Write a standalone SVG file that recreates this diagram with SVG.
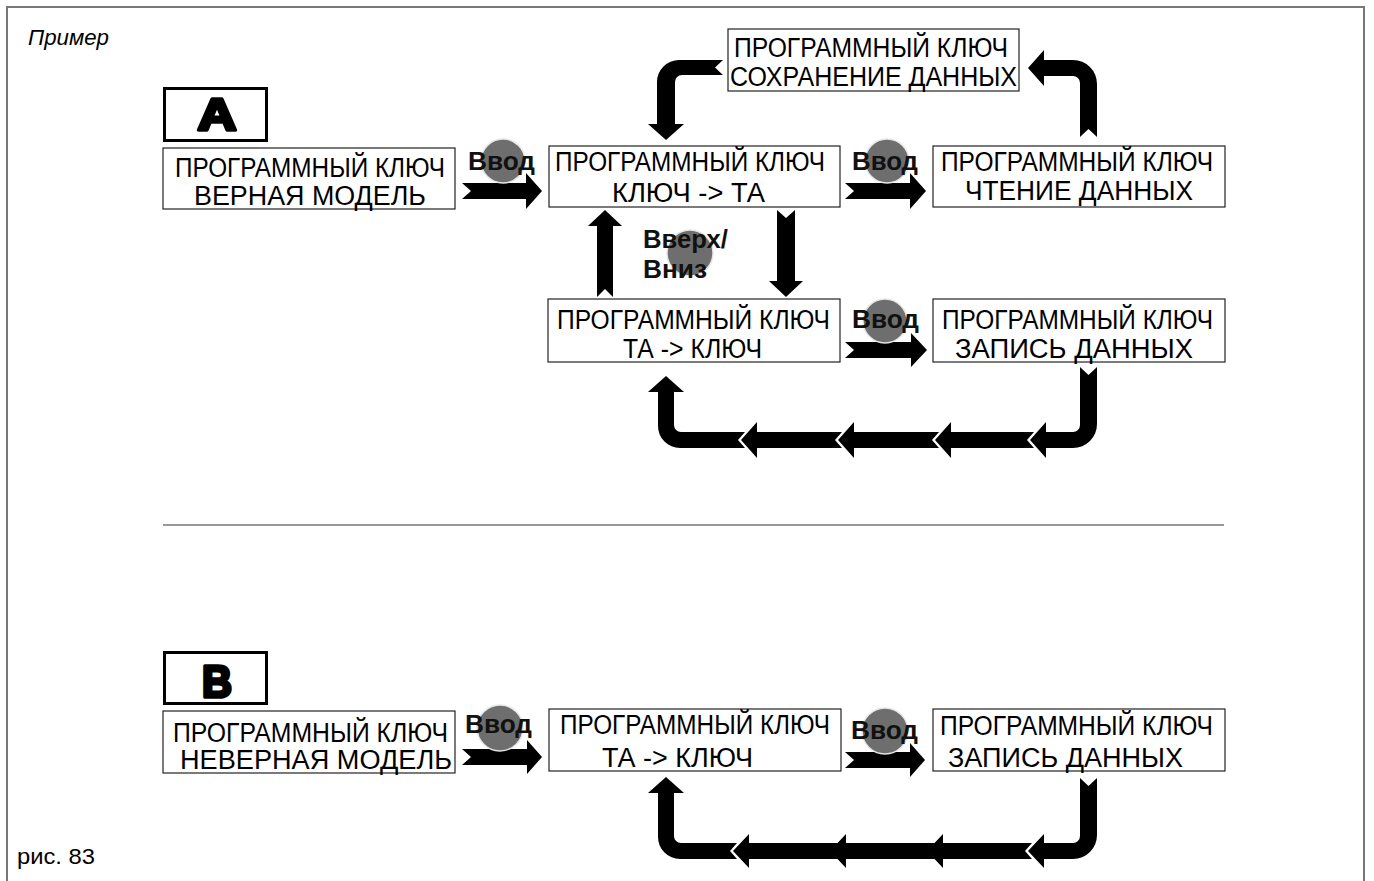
<svg xmlns="http://www.w3.org/2000/svg" width="1374" height="881" viewBox="0 0 1374 881">
<style>
.bx{fill:#fff;stroke:#222;stroke-width:1.2}
.lb{fill:#fff;stroke:#000;stroke-width:3}
.t{font-family:"Liberation Sans",Arial,sans-serif;font-size:27px;fill:#000}
.k{font-family:"Liberation Sans",Arial,sans-serif;font-size:26px;font-weight:bold;fill:#111}
.big{font-family:"Liberation Sans",Arial,sans-serif;font-size:45px;font-weight:900;fill:#000;stroke:#000;stroke-width:3.5;stroke-linejoin:round}
.ar{fill:#000}
.dot{fill:#6e6e6e;stroke:#e6e6e6;stroke-width:1.5}
.cap{font-family:"Liberation Sans",Arial,sans-serif;font-size:22px;fill:#000}
</style>
<rect x="0" y="0" width="1374" height="881" fill="#fff"/>
<path d="M7,881 V7 H1364 V881" fill="none" stroke="#777" stroke-width="2"/>
<line x1="163" y1="525" x2="1224" y2="525" stroke="#999" stroke-width="2"/>
<text class="cap" x="28" y="45" font-style="italic" textLength="81" lengthAdjust="spacingAndGlyphs">Пример</text>
<text class="cap" x="17" y="864" textLength="78" lengthAdjust="spacingAndGlyphs">рис. 83</text>

<g id="connectors">
  <path class="ar" d="M462,183 L526,183 L526,173 L542,191 L526,209 L526,199 L462,199 L471,191 Z"/>
  <path class="ar" d="M845,183 L910,183 L910,173 L926,191 L910,209 L910,199 L845,199 L854,191 Z"/>
  <path class="ar" d="M845,342 L911,342 L911,333 L927,350 L911,367 L911,358 L845,358 L854,350 Z"/>
  <path class="ar" d="M605,210 L622,226 L613,226 L613,297 L605,289 L597,297 L597,226 L588,226 Z"/>
  <path class="ar" d="M777,210 L786,218 L795,210 L795,281 L803,281 L786,297 L769,281 L777,281 Z"/>
  <path class="ar" d="M723,60 L679,60 A22,22 0 0 0 657,82 L657,124 L648,124 L666,140 L684,124 L675,124 L675,82 A7,7 0 0 1 682,75 L723,75 L715,67.5 Z"/>
  <path class="ar" d="M1080,137 L1088.5,129 L1097,137 L1097,84 A24,24 0 0 0 1073,60 L1044,60 L1044,50 L1028,68 L1044,86 L1044,76 L1073,76 A7,7 0 0 1 1080,83 Z"/>
  <path class="ar" d="M1080,367 L1088.5,375 L1097,367 L1097,424 A24,24 0 0 1 1073,448 L1046,448 L1046,458 L1030,440 L1046,422 L1046,432 L1073,432 A7,7 0 0 0 1080,425 Z"/>
  <path class="ar" d="M1034,432 L951,432 L951,422 L935,440 L951,458 L951,448 L1034,448 L1027,440 Z"/>
  <path class="ar" d="M939,432 L854,432 L854,422 L838,440 L854,458 L854,448 L939,448 L932,440 Z"/>
  <path class="ar" d="M842,432 L757,432 L757,422 L741,440 L757,458 L757,448 L842,448 L835,440 Z"/>
  <path class="ar" d="M745,432 L738,440 L745,448 L680,448 A22,22 0 0 1 658,426 L658,392 L648,392 L666,376 L684,392 L674,392 L674,425 A7,7 0 0 0 681,432 Z"/>
  <path class="ar" d="M462,749 L527,749 L527,740 L542,757 L527,774 L527,765 L462,765 L471,757 Z"/>
  <path class="ar" d="M845,752 L910,752 L910,743 L925,760 L910,777 L910,768 L845,768 L854,760 Z"/>
  <path class="ar" d="M1080,778 L1088.5,786 L1097,778 L1097,835 A24,24 0 0 1 1073,859 L1044,859 L1044,868 L1028,851 L1044,834 L1044,843 L1073,843 A7,7 0 0 0 1080,836 Z"/>
  <path class="ar" d="M1032,843 L943,843 L943,834 L927,851 L943,868 L943,859 L1032,859 L1025,851 Z"/>
  <path class="ar" d="M935,843 L846,843 L846,834 L830,851 L846,868 L846,859 L935,859 L928,851 Z"/>
  <path class="ar" d="M838,843 L749,843 L749,834 L733,851 L749,868 L749,859 L838,859 L831,851 Z"/>
  <path class="ar" d="M737,843 L730,851 L737,859 L680,859 A22,22 0 0 1 658,837 L658,793 L648,793 L666,777 L684,793 L674,793 L674,836 A7,7 0 0 0 681,843 Z"/>
  <circle class="dot" cx="503" cy="161" r="22"/>
  <circle class="dot" cx="887" cy="161" r="22"/>
  <circle class="dot" cx="885" cy="321" r="22"/>
  <circle class="dot" cx="690" cy="253" r="23"/>
  <circle class="dot" cx="500" cy="728" r="23"/>
  <circle class="dot" cx="885" cy="731" r="23"/>
  <text class="k" x="468" y="170" textLength="67" lengthAdjust="spacingAndGlyphs">Ввод</text>
  <text class="k" x="852" y="170" textLength="66" lengthAdjust="spacingAndGlyphs">Ввод</text>
  <text class="k" x="852" y="328" textLength="67" lengthAdjust="spacingAndGlyphs">Ввод</text>
  <text class="k" x="643" y="248" textLength="85" lengthAdjust="spacingAndGlyphs">Вверх/</text>
  <text class="k" x="643" y="278" textLength="64" lengthAdjust="spacingAndGlyphs">Вниз</text>
  <text class="k" x="465" y="733" textLength="67" lengthAdjust="spacingAndGlyphs">Ввод</text>
  <text class="k" x="851" y="739" textLength="67" lengthAdjust="spacingAndGlyphs">Ввод</text>
</g>

<g id="labelA">
  <rect class="lb" x="164.5" y="88.5" width="102" height="52"/>
  <text class="big" x="217" y="130" text-anchor="middle" textLength="39" lengthAdjust="spacingAndGlyphs">A</text>
</g>
<g id="labelB">
  <rect class="lb" x="164.5" y="652.5" width="102" height="51"/>
  <text class="big" x="217" y="697" text-anchor="middle" textLength="30" lengthAdjust="spacingAndGlyphs">B</text>
</g>

<g id="a-correct-model">
  <rect class="bx" x="163" y="148" width="292" height="61"/>
  <text class="t" x="175" y="177" textLength="270" lengthAdjust="spacingAndGlyphs">ПРОГРАММНЫЙ КЛЮЧ</text>
  <text class="t" x="194" y="205" textLength="232" lengthAdjust="spacingAndGlyphs">ВЕРНАЯ МОДЕЛЬ</text>
</g>
<g id="a-key-to-ta">
  <rect class="bx" x="549" y="146" width="291" height="61"/>
  <text class="t" x="555" y="171" textLength="270" lengthAdjust="spacingAndGlyphs">ПРОГРАММНЫЙ КЛЮЧ</text>
  <text class="t" x="612" y="202" textLength="153" lengthAdjust="spacingAndGlyphs">КЛЮЧ -&gt; ТА</text>
</g>
<g id="a-read-data">
  <rect class="bx" x="933" y="146" width="292" height="61"/>
  <text class="t" x="941" y="171" textLength="272" lengthAdjust="spacingAndGlyphs">ПРОГРАММНЫЙ КЛЮЧ</text>
  <text class="t" x="965" y="200" textLength="228" lengthAdjust="spacingAndGlyphs">ЧТЕНИЕ ДАННЫХ</text>
</g>
<g id="a-save-data">
  <rect class="bx" x="728" y="29" width="291" height="62"/>
  <text class="t" x="734" y="57" textLength="274" lengthAdjust="spacingAndGlyphs">ПРОГРАММНЫЙ КЛЮЧ</text>
  <text class="t" x="730" y="86" textLength="287" lengthAdjust="spacingAndGlyphs">СОХРАНЕНИЕ ДАННЫХ</text>
</g>
<g id="a-ta-to-key">
  <rect class="bx" x="548" y="299" width="292" height="63"/>
  <text class="t" x="557" y="329" textLength="273" lengthAdjust="spacingAndGlyphs">ПРОГРАММНЫЙ КЛЮЧ</text>
  <text class="t" x="623" y="358" textLength="139" lengthAdjust="spacingAndGlyphs">ТА -&gt; КЛЮЧ</text>
</g>
<g id="a-write-data">
  <rect class="bx" x="933" y="299" width="292" height="63"/>
  <text class="t" x="942" y="329" textLength="271" lengthAdjust="spacingAndGlyphs">ПРОГРАММНЫЙ КЛЮЧ</text>
  <text class="t" x="955" y="358" textLength="238" lengthAdjust="spacingAndGlyphs">ЗАПИСЬ ДАННЫХ</text>
</g>
<g id="b-wrong-model">
  <rect class="bx" x="163" y="711" width="292" height="62"/>
  <text class="t" x="173" y="742" textLength="275" lengthAdjust="spacingAndGlyphs">ПРОГРАММНЫЙ КЛЮЧ</text>
  <text class="t" x="180" y="769" textLength="272" lengthAdjust="spacingAndGlyphs">НЕВЕРНАЯ МОДЕЛЬ</text>
</g>
<g id="b-ta-to-key">
  <rect class="bx" x="549" y="709" width="292" height="62"/>
  <text class="t" x="560" y="734" textLength="270" lengthAdjust="spacingAndGlyphs">ПРОГРАММНЫЙ КЛЮЧ</text>
  <text class="t" x="602" y="767" textLength="151" lengthAdjust="spacingAndGlyphs">ТА -&gt; КЛЮЧ</text>
</g>
<g id="b-write-data">
  <rect class="bx" x="933" y="709" width="292" height="62"/>
  <text class="t" x="940" y="735" textLength="273" lengthAdjust="spacingAndGlyphs">ПРОГРАММНЫЙ КЛЮЧ</text>
  <text class="t" x="948" y="767" textLength="235" lengthAdjust="spacingAndGlyphs">ЗАПИСЬ ДАННЫХ</text>
</g>
</svg>
